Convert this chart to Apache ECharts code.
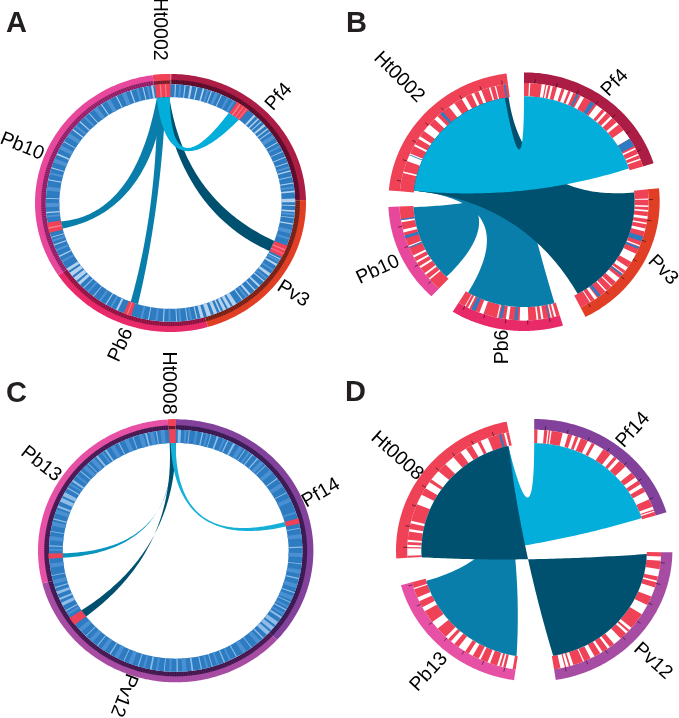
<!DOCTYPE html>
<html>
<head>
<meta charset="utf-8">
<title>Circos panels</title>
<script src="https://cdn.jsdelivr.net/npm/echarts@6/dist/echarts.min.js"></script>
<style>
html, body { margin: 0; background: #fff; }
#chart { width: 679px; height: 718px; }
</style>
</head>
<body>
<div id="chart"></div>
<script>
// All angles are degrees clockwise from the top of a panel

// Panel A
const aNames = ['Ht0002', 'Pf4', 'Pv3', 'Pb6', 'Pb10']
const aSectors = [[352.4, 360], [0.3, 88.7], [88.7, 164], [164, 236], [236, 352.4]]
const aHits = [[352.8, 360], [32, 38.5], [111, 117], [198.5, 202], [255.5, 260.5]]
const aHitStripes = [[33.5, 34.2], [35.6, 36], [37.4, 37.8], [113, 113.6], [115, 115.5], [200, 200.5], [257.5, 258.2], [355, 355.6], [357.5, 358]]
const aRibbons = [[352.9, 357.2, 256, 260], [353.2, 357.6, 197, 201], [356, 359.4, 111, 117], [352.9, 359.7, 31.6, 38]]
const aPale = [[2, 2.5], [6.5, 7], [9, 10], [12, 12.6], [15, 15.8], [19, 19.5], [24, 24.4], [42, 43], [44.5, 45.2], [46.5, 47], [48.5, 49.5], [51, 51.6], [53, 53.4], [59, 59.5], [64, 64.4], [67, 67.5], [70, 70.4], [74, 74.6], [77, 77.4], [80, 80.6], [84, 84.8], [87.8, 89.6], [91, 91.4], [93.5, 94.4], [97, 97.4], [100, 100.6], [118, 118.5], [121, 122], [126.5, 128], [131, 131.6], [134, 135], [137, 137.6], [140, 141], [144.5, 145], [148, 150], [151, 152.6], [153.5, 155], [156, 156.8], [158, 159.6], [161, 163], [164.5, 166], [167.5, 168], [172, 172.4], [177, 177.4], [183, 183.5], [190, 190.4], [205, 206], [211, 211.5], [218, 218.4], [224, 224.5], [226.5, 228], [229, 231], [232, 234], [235, 236.5], [243, 243.6], [249, 249.5], [253, 253.4], [265, 265.6], [272, 272.4], [281, 281.6], [287, 287.5], [294, 294.8], [301, 301.4], [308, 308.6], [313, 313.6], [319, 319.4], [326, 326.5], [334, 334.5], [341, 341.6], [347, 347.5], [351, 352]]
const aMid = [[4, 5], [17, 18], [21, 22.5], [27, 28], [30, 31], [55, 57], [61, 62], [72, 73], [82, 83], [95, 96], [103, 105], [107, 108], [119, 120], [124, 125], [129, 130], [142, 143], [170, 171], [175, 176], [180, 181], [186, 187], [193, 194], [208, 209], [214, 215], [221, 222], [240, 241], [246, 247], [251, 252], [263, 264], [268, 270], [276, 278], [284, 285], [290, 292], [297, 299], [304, 306], [310, 311], [316, 317], [322, 324], [329, 331], [337, 339], [344, 345], [349, 350]]

// Panel B
const bNames = ['Ht0002', 'Pf4', 'Pv3', 'Pb6', 'Pb10']
const bSectors = [[275, 352.6], [0, 72.7], [84, 153], [163.3, 211.7], [223, 267.7]]
const bRibbons = [[276, 285, 224.5, 267], [276, 350, 164, 210.4], [276, 352, 85, 151], [276, 350, 0, 71.6]]
const bWhite = [[2.3, 2.9], [8.2, 9.8], [10.4, 11.2], [12.3, 13.4], [15.4, 17.6], [19, 20.8], [22, 23.4], [27, 28.8], [35.6, 38.8], [40.4, 41.6], [44, 45.2], [48, 49.4], [53, 58], [63, 63.8], [66.2, 67], [68.6, 69.4], [88.5, 89], [91.8, 92.6], [94, 94.8], [97, 98.4], [100.2, 101], [103, 104.5], [111.5, 112.2], [116, 120.5], [123.5, 125.5], [127, 127.5], [130, 132.5], [135, 135.6], [138.5, 139.2], [144, 145.5], [147.5, 148], [165, 166], [167, 167.6], [171, 172], [173.4, 174.2], [178, 182], [187, 188.4], [192, 192.6], [199, 201], [206, 206.8], [208, 208.4], [229, 229.8], [232, 233], [236, 237], [239, 240], [242, 243], [247.6, 248.2], [255, 256.4], [260, 261], [284, 284.8], [290, 294], [298, 299], [302, 303.4], [306.5, 310.5], [314, 316], [323, 326], [330, 332], [335, 336.4], [338.5, 340], [343.6, 344.4], [346.4, 347]]
const bBlue = [[25, 26], [32.4, 34.4], [58, 62], [107, 109.5], [112.5, 113.5], [127.6, 128.4], [142, 143.5], [168, 168.6], [183, 184.4], [190, 191.4], [203, 205], [247, 247.6], [252, 253.4], [261, 261.6], [293, 293.4], [317.8, 319.2], [350.6, 351.4]]

// Panel C
const cNames = ['Ht0008', 'Pf14', 'Pv12', 'Pb13']
const cSectors = [[356.7, 360], [0, 132.6], [132.6, 255.6], [255.6, 356.7]]
const cHits = [[356.9, 360], [74.5, 77], [232.5, 236.5], [266.3, 268.7]]
const cRibbons = [[358.2, 358.7, 268.7, 266.3], [356.9, 360, 236.5, 232.5], [357.4, 360, 74.5, 77]]
const cPale = [[1, 2.4], [6, 6.4], [12, 12.6], [16, 16.4], [19, 19.8], [24, 24.6], [27, 28], [33, 33.4], [37, 37.6], [40, 40.6], [45, 45.4], [53, 53.6], [61, 61.4], [79, 79.4], [88, 88.6], [96, 96.4], [103, 103.6], [110, 110.6], [115, 115.4], [119, 119.6], [123, 124], [126, 128], [129, 131], [132, 134], [136, 136.6], [143, 143.4], [151, 151.5], [157, 157.6], [163, 163.4], [168, 168.5], [172, 172.8], [179, 179.6], [185, 185.4], [191, 191.8], [197, 197.5], [204, 204.4], [211, 211.6], [218, 218.5], [225, 225.4], [240, 240.6], [243, 244.6], [246, 247], [249, 250.4], [252, 252.6], [258, 258.4], [272, 272.6], [279, 279.4], [285, 285.6], [291, 292], [294, 296], [297, 299], [301, 301.6], [305, 306], [311, 311.5], [316, 316.4], [321, 322], [326, 326.8], [333, 333.5], [340, 340.4], [346, 346.8], [351, 351.5]]
const cMid = [[4, 5], [9, 10], [14, 15], [22, 23], [30, 32], [35, 36], [42, 44], [48, 50], [56, 58], [64, 66], [71, 72], [82, 84], [91, 93], [99, 101], [106, 108], [112, 114], [117, 118], [121, 122], [138, 140], [146, 148], [154, 155], [160, 161], [165, 166], [175, 177], [182, 183], [188, 189], [194, 195], [200, 202], [207, 209], [214, 216], [221, 223], [228, 230], [238, 239], [254, 256], [262, 264], [270, 271], [275, 277], [282, 284], [288, 290], [303, 304], [308, 309], [313, 315], [318, 320], [324, 325], [329, 331], [336, 338], [343, 345], [348, 350], [353, 355]]

// Panel D
const dNames = ['Ht0008', 'Pf14', 'Pv12', 'Pb13']
const dSectors = [[266.4, 348.5], [0, 73.2], [90.9, 171], [188.4, 254.6]]
const dRibbons = [[266.3, 346.7, 0, 72.5], [340, 346.7, 253.4, 189], [266.3, 346.7, 170.3, 92]]
const dWhite = [[1.5, 4.5], [6, 6.6], [7.3, 7.9], [13, 15.5], [17.4, 19], [20.4, 21.6], [25, 27], [28.5, 33], [37, 39], [40.6, 42.2], [46, 50], [52.8, 54.8], [56.8, 58.6], [61, 65], [68.8, 70.2], [70.8, 71.4], [93, 95], [99, 102.6], [104.6, 105.4], [108, 112.6], [117, 122], [130, 131.4], [132.4, 133.6], [137, 141], [143.4, 144.6], [147.4, 148.6], [151.6, 153.6], [156.8, 157.4], [162, 163.4], [164.2, 165.4], [166, 168], [189.8, 193], [194.2, 195], [196, 197], [200.4, 201.6], [205, 206], [209, 211], [213, 216.6], [219, 221], [222.6, 224.2], [229.5, 233.5], [239.6, 241.8], [245, 247], [251.2, 251.8], [267.4, 271], [271.6, 272.6], [274, 275], [279, 280.2], [283, 284.2], [292.5, 297.5], [301, 304.4], [306, 311], [315.5, 320.5], [324.5, 327.5], [330.5, 333.5], [335, 338.6], [346.2, 347.2]]
const dBlue = [[343.8, 344.8]]

// Label anchors: name index, angle, radius in panel units, rotation
const aLabels = [[0, 356.4, 1.35, -90], [1, 44.2, 1.147, 48], [4, 291.8, 1.18, -22], [2, 127.9, 1.147, -32], [3, 198.4, 1.16, 65]]
const bLabels = [[0, 316.3, 1.333, -45], [1, 36.1, 1.137, 46], [2, 117.3, 1.152, -45], [3, 187.9, 1.134, 90], [4, 243.9, 1.198, 25]]
const cLabels = [[0, 357.5, 1.277, -90], [1, 67.4, 1.143, 30], [3, 304, 1.18, -38], [2, 199, 1.16, -111]]
const dLabels = [[0, 305.9, 1.225, -42], [1, 38, 1.162, 48], [2, 134.5, 1.204, -42], [3, 219.4, 1.199, 47]]

const RED = '#ef4257'
const LIGHT = '#03aeda'
const MEDIUM = '#0a7eab'
const DEEP = '#00506f'
const BLUE = '#2d7cc2'

const sectorColors = {
	Ht0002: ['#ef4257', '#8f2235'],
	Ht0008: ['#ef4257', '#7a1a30'],
	Pf4: ['#ab1d44', '#6a1030'],
	Pv3: ['#e03f26', '#8a2a1a'],
	Pb6: ['#e82a68', '#a81a4e'],
	Pb10: ['#e8489c', '#a82a78'],
	Pf14: ['#82429c', '#43205e'],
	Pv12: ['#a64ca3', '#4f1f5c'],
	Pb13: ['#e751a5', '#53205f']
}

const panels = [
	{ cx: 170.5, cy: 203, rx: 135.5, ry: 129 },
	{ cx: 524, cy: 201.7, rx: 135.7, ry: 129.3 },
	{ cx: 175.7, cy: 550.8, rx: 137.7, ry: 131.5 },
	{ cx: 534.2, cy: 550.3, rx: 138.2, ry: 131.3 }
]

// Bezier pulls per ribbon edge, panel units, when it is not the panel centre
const aPulls = [
	[[-0.155, -0.062], [-0.262, -0.093]],
	[[-0.072, -0.046], [-0.1, -0.05]],
	[[0.107, 0.023], [0.085, -0.07]],
	[[0, 0.1], [-0.02, 0.085]]
]
const dPulls = [
	null,
	[[0, 0], [-0.081, 0]],
	[[-0.083, -0.036], [-0.107, -0.096]]
]

const toXY = (angle, r) => {
	const t = angle * Math.PI / 180
	return [r * Math.sin(t), r * Math.cos(t)]
}

const arcPoints = (api, a0, a1, r) => {
	const n = Math.max(1, Math.ceil(Math.abs(a1 - a0)))
	const pts = []
	for (let i = 0; i <= n; i++) {
		pts.push(api.coord(toXY(a0 + (a1 - a0) * i / n, r)))
	}
	return pts
}

// Quadratic curve from angle a to angle b on radius r, pulled to ctrl
const curvePoints = (api, a, b, r, ctrl) => {
	const p0 = toXY(a, r)
	const p2 = toXY(b, r)
	const pts = []
	for (let i = 1; i < 60; i++) {
		const t = i / 60
		const u = 1 - t
		pts.push(api.coord([
			u * u * p0[0] + 2 * u * t * ctrl[0] + t * t * p2[0],
			u * u * p0[1] + 2 * u * t * ctrl[1] + t * t * p2[1]
		]))
	}
	return pts
}

const series = []

const addBands = (p, list, r0, r1, color) => {
	series.push({
		type: 'custom',
		xAxisIndex: p,
		yAxisIndex: p,
		silent: true,
		animation: false,
		data: list.map((d, i) => [i]),
		renderItem: (params, api) => {
			const d = list[params.dataIndex]
			const pts = arcPoints(api, d[0], d[1], r1).concat(arcPoints(api, d[1], d[0], r0))
			const fill = Array.isArray(color) ? color[params.dataIndex] : color
			return { type: 'polygon', shape: { points: pts }, style: { fill: fill } }
		}
	})
}

// Tick marks work like an axis: one every `step` degrees along a sector
const addTicks = (p, sectors, step, r0, r1, stroke, width) => {
	const angles = []
	sectors.forEach(s => {
		for (let a = s[0] + step / 2; a < s[1]; a += step) angles.push(a)
	})
	series.push({
		type: 'custom',
		xAxisIndex: p,
		yAxisIndex: p,
		silent: true,
		animation: false,
		data: angles.map(a => [a]),
		renderItem: (params, api) => {
			const a = angles[params.dataIndex]
			const p0 = api.coord(toXY(a, r0))
			const p1 = api.coord(toXY(a, r1))
			return {
				type: 'line',
				shape: { x1: p0[0], y1: p0[1], x2: p1[0], y2: p1[1] },
				style: { stroke: stroke, lineWidth: width }
			}
		}
	})
}

const addRibbons = (p, list, r, colors, pulls) => {
	series.push({
		type: 'custom',
		xAxisIndex: p,
		yAxisIndex: p,
		silent: true,
		animation: false,
		data: list.map((d, i) => [i]),
		renderItem: (params, api) => {
			const i = params.dataIndex
			const d = list[i]
			const c = pulls && pulls[i] ? pulls[i] : [[0, 0], [0, 0]]
			const pts = arcPoints(api, d[0], d[1], r)
				.concat(curvePoints(api, d[1], d[2], r, c[0]))
				.concat(arcPoints(api, d[2], d[3], r))
				.concat(curvePoints(api, d[3], d[0], r, c[1]))
			return { type: 'polygon', shape: { points: pts }, style: { fill: colors[i] } }
		}
	})
}

const addLabels = (p, list, names) => {
	series.push({
		type: 'custom',
		xAxisIndex: p,
		yAxisIndex: p,
		silent: true,
		animation: false,
		data: list.map((d, i) => [i]),
		renderItem: (params, api) => {
			const d = list[params.dataIndex]
			const pos = api.coord(toXY(d[1], d[2]))
			return {
				type: 'text',
				x: pos[0],
				y: pos[1],
				rotation: d[3] * Math.PI / 180,
				style: {
					text: names[d[0]],
					fill: '#000',
					font: '19.5px "Liberation Sans", Arial, sans-serif',
					textAlign: 'center',
					textVerticalAlign: 'middle'
				}
			}
		}
	})
}

// Full circle panels (A, C)
const addCircle = (p, names, sectors, hits, pale, mid, paleColor, midColor, ribbons, ribbonColors, pulls) => {
	addBands(p, sectors, 0.95, 1, names.map(n => sectorColors[n][0]))
	addBands(p, sectors, 0.92, 0.955, names.map(n => sectorColors[n][1]))
	addTicks(p, sectors, 1, 0.922, 0.953, 'rgba(20,0,20,0.45)', 0.7)
	addBands(p, [[0, 360]], 0.82, 0.92, BLUE)
	addBands(p, mid, 0.82, 0.92, midColor)
	addBands(p, pale, 0.82, 0.92, paleColor)
	addBands(p, hits, 0.82, 0.925, RED)
	addBands(p, [hits[0]], 0.95, 1, RED)
	addRibbons(p, ribbons, 0.82, ribbonColors, pulls)
}

// Separated arc panels (B, D)
const addChord = (p, names, sectors, white, blue, ribbons, ribbonColors, pulls) => {
	addBands(p, sectors, 0.918, 1, names.map(n => sectorColors[n][0]))
	addBands(p, sectors, 0.815, 0.918, RED)
	addBands(p, white, 0.815, 0.918, '#ffffff')
	addBands(p, blue, 0.815, 0.918, BLUE)
	addTicks(p, sectors, 10, 0.918, 0.95, 'rgba(30,0,20,0.7)', 0.8)
	addRibbons(p, ribbons, 0.815, ribbonColors, pulls)
}

addCircle(0, aNames, aSectors, aHits, aPale, aMid, '#b4d2ee', '#4f93d2', aRibbons, [MEDIUM, MEDIUM, DEEP, LIGHT], aPulls)
addBands(0, aHitStripes, 0.82, 0.92, '#f77f90')
addLabels(0, aLabels, aNames)

addChord(1, bNames, bSectors, bWhite, bBlue, bRibbons, [MEDIUM, MEDIUM, DEEP, LIGHT])
addLabels(1, bLabels, bNames)

addCircle(2, cNames, cSectors, cHits, cPale, cMid, '#8fbde8', '#4a90d2', cRibbons, ['#0795bf', DEEP, '#14b0d8'])
addLabels(2, cLabels, cNames)

addChord(3, dNames, dSectors, dWhite, dBlue, dRibbons, [LIGHT, MEDIUM, DEEP], dPulls)
addLabels(3, dLabels, dNames)

const letters = [['A', 6, 9], ['B', 346, 9], ['C', 6, 379], ['D', 345, 378]]

const option = {
	animation: false,
	backgroundColor: '#fff',
	grid: panels.map(g => ({
		left: g.cx - g.rx,
		top: g.cy - g.ry,
		width: g.rx * 2,
		height: g.ry * 2,
		containLabel: false
	})),
	xAxis: panels.map((g, i) => ({ type: 'value', gridIndex: i, min: -1, max: 1, show: false })),
	yAxis: panels.map((g, i) => ({ type: 'value', gridIndex: i, min: -1, max: 1, show: false })),
	series: series,
	graphic: letters.map(l => ({
		type: 'text',
		left: l[1],
		top: l[2],
		silent: true,
		style: { text: l[0], fill: '#231f20', font: 'bold 29px "Liberation Sans", Arial, sans-serif' }
	}))
}

const chart = echarts.init(document.getElementById('chart'), null, { renderer: 'canvas' })
chart.setOption(option)
</script>
</body>
</html>
